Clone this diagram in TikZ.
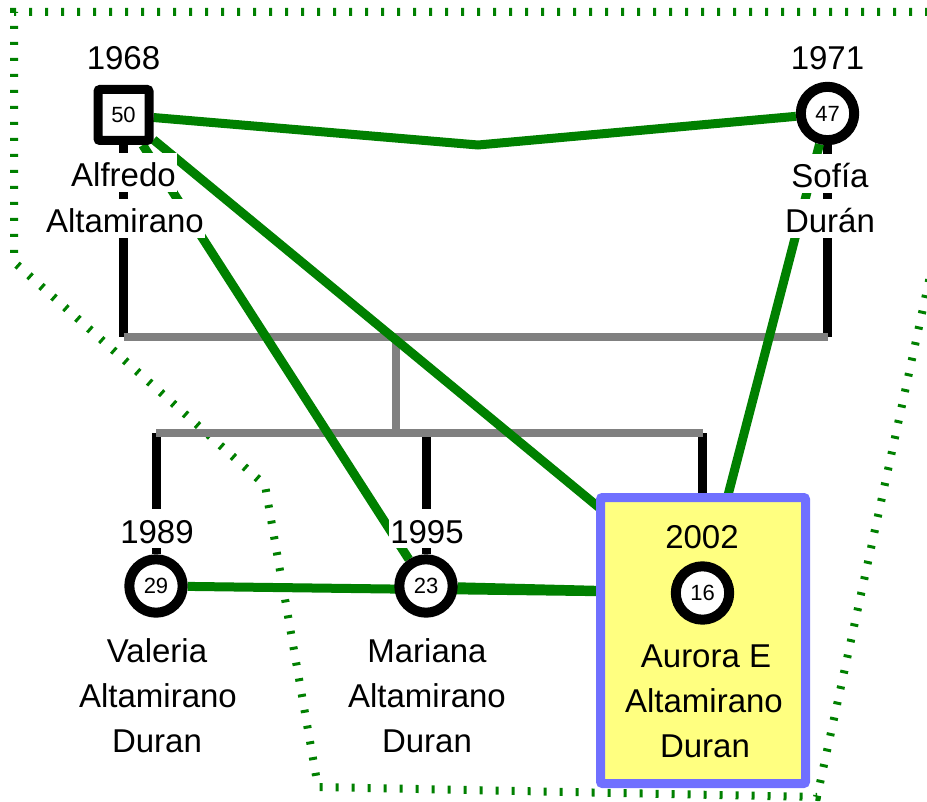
\documentclass[tikz,border=0pt]{standalone}
\usepackage{fontspec}
\setmainfont{Liberation Sans}
\pgfdeclarelayer{lines}
\pgfsetlayers{lines,main}
\definecolor{tieGreen}{RGB}{0,128,0}
\definecolor{barGray}{RGB}{128,128,128}
\definecolor{focusBlue}{RGB}{112,112,255}
\definecolor{focusFill}{RGB}{255,255,128}
\begin{document}
\begin{tikzpicture}[x=1pt,y=-1pt,
  kin/.style={line width=9pt,black},
  bar/.style={line width=8.5pt,barGray},
  tie/.style={line width=9pt,tieGreen},
  bound/.style={line width=8pt,tieGreen,dash pattern=on 3pt off 13pt},
  age/.style={fill=white,inner sep=0pt,font=\fontsize{22}{24}\selectfont},
  malebox/.style={age,draw=black,line width=9pt,minimum size=51pt,rounded corners=2pt},
  femcirc/.style={age,draw=black,circle,line width=10pt,minimum size=53.4pt},
  tag/.style={anchor=base,inner xsep=1pt,inner ysep=0pt,text height=34pt,text depth=5pt,
    font=\fontsize{33}{38}\selectfont},
  tagw/.style={tag,fill=white},
  focusbox/.style={draw=focusBlue,fill=focusFill,line width=9pt,rounded corners=2pt,
    minimum width=205pt,minimum height=286pt,inner sep=0pt}
]
\useasboundingbox (0,0) rectangle (927,802);
\clip (0,0) rectangle (927,802);

% people
\node[malebox] (alfredo) at (123.5,115) {50};
\node[femcirc] (sofia) at (827.5,113.5) {47};
\node[femcirc] (valeria) at (156,586) {29};
\node[femcirc] (mariana) at (426,586) {23};
\node[focusbox] (aurorabox) at (703,640.5) {};
\node[femcirc] (aurora) at (702.5,593) {16};

% years of birth
\node[tag] (y1968) at (123.5,70) {1968};
\node[tag] (y1971) at (827.5,70) {1971};
\node[tagw] (y1989) at (157,543) {1989};
\node[tagw] (y1995) at (427,543) {1995};
\node[tag] (y2002) at (702,548) {2002};

% names
\node[tagw] (alfredoA) at (123.5,187) {Alfredo};
\node[tagw] (alfredoB) at (125,233) {Altamirano};
\node[tagw] (sofiaA) at (830,188) {Sofía};
\node[tagw] (sofiaB) at (830,233) {Durán};
\node[tagw] (valeriaA) at (157,662) {Valeria};
\node[tagw] (valeriaB) at (158,707) {Altamirano};
\node[tagw] (valeriaC) at (157,752) {Duran};
\node[tagw] (marianaA) at (427,662) {Mariana};
\node[tagw] (marianaB) at (427,707) {Altamirano};
\node[tagw] (marianaC) at (427,752) {Duran};
\node[tag] (auroraA) at (706,667) {Aurora E};
\node[tag] (auroraB) at (704,712) {Altamirano};
\node[tag] (auroraC) at (705,757) {Duran};

% junction points of the family bars
\coordinate (pbarL) at (123.5,337);
\coordinate (pbarR) at (827.5,337);
\coordinate (pmid) at (396,337);
\coordinate (cmid) at (396,433);
\coordinate (cbarL) at (156,433);
\coordinate (cbarM) at (426,433);
\coordinate (cbarR) at (702.5,433);
\coordinate (kink) at (478,145);

\begin{pgfonlayer}{lines}
  % dotted household boundary
  \draw[bound] (960,12) -- (14,12) -- (14,262) -- (265,485) -- (318,787)
    -- (817,797) -- (940,230);
  % descent lines
  \draw[kin] (alfredo) -- (pbarL);
  \draw[kin] (sofia) -- (pbarR);
  \draw[kin] (cbarL) -- (valeria);
  \draw[kin] (cbarM) -- (mariana);
  \draw[kin] (cbarR) -- (cbarR |- aurorabox.north);
  % family bars
  \draw[bar] (pbarL) -- (pbarR);
  \draw[bar] (pmid) -- (cmid);
  \draw[bar] (cbarL) -- (cbarR);
  % relationship ties
  \draw[tie] (alfredo) -- (kink) -- (sofia);
  \draw[tie] (alfredo) -- (mariana);
  \draw[tie] (alfredo) -- (aurora);
  \draw[tie] (sofia) -- (aurora);
  \draw[tie] (valeria) -- (aurora);
  \draw[tie] (mariana) -- (aurora);
\end{pgfonlayer}
\end{tikzpicture}
\end{document}
